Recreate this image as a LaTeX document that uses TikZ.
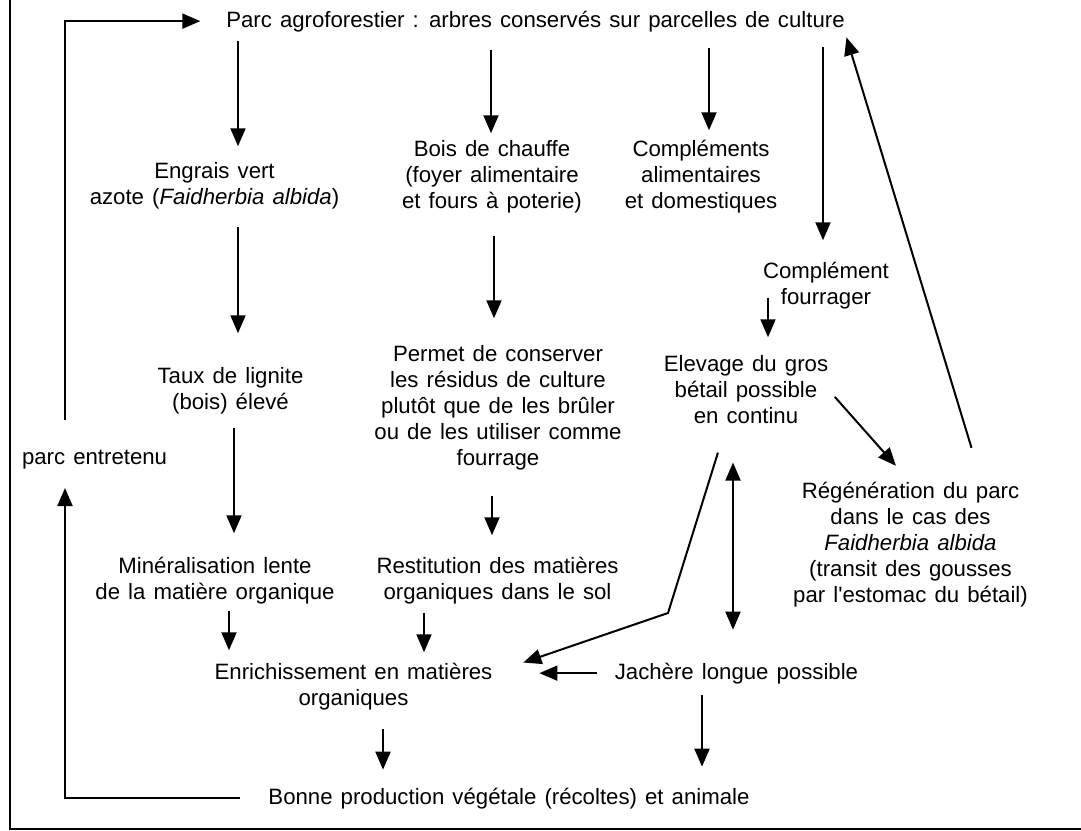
\documentclass[tikz,border=0pt]{standalone}
\usepackage{fontspec}
\setmainfont{Liberation Sans}
\newfontfamily\straightfont{Liberation Sans}[Ligatures=TeXOff]
\usetikzlibrary{arrows.meta}
\newcommand{\diagfont}{\fontsize{22.2}{26}\selectfont\spaceskip 8.1pt plus 1pt\relax}
\begin{document}
\begin{tikzpicture}[x=1pt,y=-1pt,
  txt/.style={inner sep=0pt, outer sep=0pt, align=center, font=\diagfont},
  arr/.style={line width=2pt, -{Triangle[length=18pt,width=15pt]}},
  darr/.style={line width=2pt, {Triangle[length=18pt,width=15pt]}-{Triangle[length=18pt,width=15pt]}},
  ln/.style={line width=2pt}]
\useasboundingbox (0,0) rectangle (1081,830);
% frame
\draw[ln] (10,0) -- (10,829) -- (1081,829);
% nodes
\node[txt, anchor=base] (title) at (535.5,27) {Parc agroforestier : arbres conservés sur parcelles de culture};
\node[txt, anchor=north] (engrais) at (214.5,162.25) {Engrais vert\\azote (\textit{Faidherbia albida})};
\node[txt, anchor=north] (bois) at (492,140.25) {Bois de chauffe\\(foyer alimentaire\\et fours à poterie)};
\node[txt, anchor=north] (compl) at (701,140.25) {Compléments\\alimentaires\\et domestiques};
\node[txt, anchor=north] (fourr) at (826,262.25) {Complément\\fourrager};
\node[txt, anchor=north] (elev) at (746,355.25) {Elevage du gros\\bétail possible\\en continu};
\node[txt, anchor=north] (regen) at (910.5,482.25) {Régénération du parc\\dans le cas des\\\textit{Faidherbia albida}\\(transit des gousses\\par l{\straightfont '}estomac du bétail)};
\node[txt, anchor=north] (taux) at (230.5,367.25) {Taux de lignite\\(bois) élevé};
\node[txt, anchor=north] (permet) at (498,345.25) {Permet de conserver\\les résidus de culture\\plutôt que de les brûler\\ou de les utiliser comme\\fourrage};
\node[txt, anchor=north] (miner) at (215,557.25) {Minéralisation lente\\de la matière organique};
\node[txt, anchor=north] (restit) at (497.5,557.25) {Restitution des matières\\organiques dans le sol};
\node[txt, anchor=north] (enrich) at (353.5,663.25) {Enrichissement en matières\\organiques};
\node[txt, anchor=base] (jach) at (736.5,679) {Jachère longue possible};
\node[txt, anchor=base] (bonne) at (509,804) {Bonne production végétale (récoltes) et animale};
\node[txt, anchor=base west] (entretenu) at (22,464) {parc entretenu};
% column coordinates
\coordinate (cA) at (238,0);
\coordinate (cB) at (491,0);
\coordinate (cB2) at (494,0);
\coordinate (cC) at (709,0);
\coordinate (cD) at (823,0);
\coordinate (cE) at (768,0);
\coordinate (cF) at (234,0);
\coordinate (cP) at (492,0);
\coordinate (cG) at (229,0);
\coordinate (cH) at (424,0);
\coordinate (cI) at (383,0);
\coordinate (cJ) at (702,0);
\coordinate (cK) at (733,0);
\coordinate (cL) at (65,0);
\coordinate (cM) at (727,0);
\coordinate (cR) at (982,0);
\coordinate (kink) at (668,613);
% connectors
\draw[arr, shorten <=9.4pt, shorten >=16pt] (title.south -| cA) -- (engrais.north -| cA);
\draw[arr, shorten <=18.4pt, shorten >=7pt] (title.south -| cB) -- (bois.north -| cB);
\draw[arr, shorten <=16.4pt, shorten >=10pt] (title.south -| cC) -- (compl.north -| cC);
\draw[arr, shorten <=15.4pt, shorten >=22pt] (title.south -| cD) -- (fourr.north -| cD);
\draw[arr, shorten <=18.4pt, shorten >=34pt] (engrais.south -| cA) -- (taux.north -| cA);
\draw[arr, shorten <=23.4pt, shorten >=27pt] (bois.south -| cB2) -- (permet.north -| cB2);
\draw[arr, shorten <=-11.6pt, shorten >=18pt] (fourr.south -| cE) -- (elev.north -| cE);
\draw[arr, shorten <=10pt, shorten >=22pt] (elev.east) -- (regen.north);
\draw[arr, shorten <=36pt, shorten >=6pt] (regen.north -| cR) -- (title.south east);
\draw[arr, shorten <=14.4pt, shorten >=24pt] (taux.south -| cF) -- (miner.north -| cF);
\draw[arr, shorten <=26.4pt, shorten >=22pt] (permet.south -| cP) -- (restit.north -| cP);
\draw[arr, shorten <=6.4pt, shorten >=13pt] (miner.south -| cG) -- (enrich.north -| cG);
\draw[arr, shorten <=8.4pt, shorten >=11pt] (restit.south -| cH) -- (enrich.north -| cH);
\draw[arr, shorten <=30.4pt, shorten >=32.7pt] (elev.south -| cM) -- (kink) -- (jach.west -| enrich.east);
\draw[arr, shorten <=18pt, shorten >=47pt] (jach.west) -- (jach.west -| enrich.east);
\draw[darr, shorten <=39pt, shorten >=33pt] (elev.south -| cK) -- (jach.north -| cK);
\draw[arr, shorten <=11.4pt, shorten >=21pt] (jach.south -| cJ) -- (bonne.north -| cJ);
\draw[arr, shorten <=18.4pt, shorten >=18pt] (enrich.south -| cI) -- (bonne.north -| cI);
\draw[arr, shorten <=28pt, shorten >=19.4pt] (bonne.west) -| (entretenu.south -| cL);
\draw[arr, shorten <=30pt, shorten >=26pt] (entretenu.north -| cL) |- (title.west);
\end{tikzpicture}
\end{document}
